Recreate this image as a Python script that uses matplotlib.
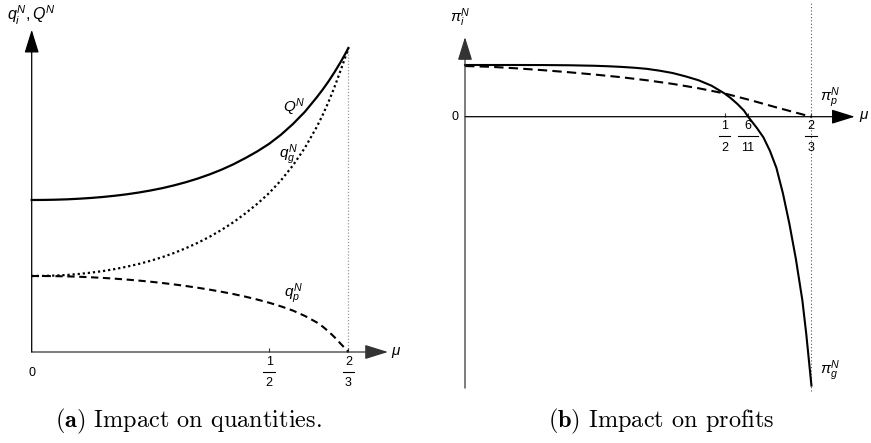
import matplotlib
matplotlib.use("Agg")
import matplotlib.pyplot as plt

plt.rcParams['font.family'] = ['Liberation Sans', 'DejaVu Sans']
plt.rcParams['mathtext.fontset'] = 'custom'
plt.rcParams['mathtext.rm'] = 'Liberation Sans'
plt.rcParams['mathtext.it'] = 'Liberation Sans:italic'
plt.rcParams['mathtext.bf'] = 'Liberation Sans:bold'

# ---------------- data: panel (a) quantities ----------------
mu_q = [0.0, 0.025, 0.05, 0.075, 0.1, 0.125, 0.15, 0.175, 0.2, 0.225, 0.25,
        0.275, 0.3, 0.325, 0.35, 0.375, 0.4, 0.425, 0.45, 0.475, 0.5, 0.525,
        0.55, 0.575, 0.6, 0.6125, 0.625, 0.6375, 0.65, 0.6583, 0.6667]
Q_N = [2.000, 2.001, 2.004, 2.009, 2.017, 2.027, 2.040, 2.056, 2.075, 2.098,
       2.125, 2.156, 2.193, 2.235, 2.283, 2.338, 2.400, 2.471, 2.552, 2.640,
       2.740, 2.860, 3.000, 3.160, 3.350, 3.452, 3.562, 3.682, 3.811, 3.902,
       4.000]
qg_N = [1.000, 1.001, 1.006, 1.014, 1.027, 1.044, 1.065, 1.091, 1.122, 1.158,
        1.200, 1.248, 1.304, 1.367, 1.438, 1.518, 1.608, 1.709, 1.824, 1.950,
        2.092, 2.260, 2.455, 2.685, 2.960, 3.117, 3.292, 3.487, 3.699, 3.845,
        4.000]
qp_N = [1.000, 1.000, 0.998, 0.995, 0.990, 0.983, 0.975, 0.965, 0.953, 0.940,
        0.925, 0.908, 0.889, 0.868, 0.845, 0.820, 0.792, 0.762, 0.728, 0.690,
        0.648, 0.600, 0.545, 0.475, 0.390, 0.335, 0.270, 0.195, 0.112, 0.057,
        0.000]
ticks_a = [0.5, 2/3]
ticknum_a = ['1', '2']
tickden_a = ['2', '3']

# ---------------- data: panel (b) profits ----------------
mu_pg = [0.0, 0.05, 0.1, 0.15, 0.2, 0.25, 0.275, 0.3, 0.325, 0.35, 0.375,
         0.4, 0.425, 0.45, 0.475, 0.5, 0.5125, 0.525, 0.5375, 6/11, 0.5625,
         0.575, 0.5875, 0.6, 0.6125, 0.625, 0.6375, 0.65, 0.6575, 0.6625,
         0.6675]
pi_g = [1.000, 1.000, 1.000, 0.999, 0.995, 0.985, 0.976, 0.964, 0.948, 0.926,
        0.890, 0.845, 0.780, 0.705, 0.600, 0.450, 0.355, 0.245, 0.118, 0.000,
        -0.220, -0.400, -0.660, -0.990, -1.480, -2.070, -2.750, -3.550,
        -4.200, -4.700, -5.200]
mu_pp = [0.0, 0.05, 0.1, 0.15, 0.2, 0.25, 0.3, 0.35, 0.4, 0.45, 0.5, 0.55,
         0.6, 2/3]
pi_p = [0.980, 0.965, 0.935, 0.900, 0.860, 0.815, 0.765, 0.705, 0.635, 0.550,
        0.450, 0.320, 0.180, 0.000]
ticks_b = [0.5, 6/11, 2/3]
ticknum_b = ['1', '6', '2']
tickden_b = ['2', '11', '3']

W, H = 871, 443
fig = plt.figure(figsize=(W/100, H/100), dpi=100)


def make_axes(px0, px1, py0, py1, ox, oy, sx, sy):
    """axes covering a pixel box; origin at pixel (ox, oy), scales sx, sy px/unit"""
    ax = fig.add_axes([px0/W, 1-py1/H, (px1-px0)/W, (py1-py0)/H])
    ax.set_xlim((px0-ox)/sx, (px1-ox)/sx)
    ax.set_ylim((oy-py1)/sy, (oy-py0)/sy)
    ax.axis('off')
    return ax


def arrow(ax, start, tip, color='k', lw=0.9):
    ax.annotate('', xy=tip, xytext=start,
                arrowprops=dict(arrowstyle='-|>,head_length=0.9,head_width=0.28',
                                color=color, lw=lw, shrinkA=0, shrinkB=0,
                                mutation_scale=16))


def frac_labels(ax, ticks, nums, dens, y_bar, dy_num, dy_den, sx):
    for t, n, d in zip(ticks, nums, dens):
        ax.text(t, y_bar + dy_num, n, ha='center', va='center', fontsize=9)
        ax.text(t, y_bar - dy_den, d, ha='center', va='center', fontsize=9)
        hw = (2.0 + 3.8 * max(len(n), len(d))) / sx
        ax.plot([t - hw, t + hw], [y_bar, y_bar], color='k', lw=0.8)


# ---------------- panel (a) ----------------
sxa, sya = 475, 76
axa = make_axes(0, 430, 0, 400, 31.7, 352, sxa, sya)
axc = '#333333'
arrow(axa, (0, 0), (0.75, 0), color=axc)
arrow(axa, (0, 0), (0, 4.24), color='k')
axa.vlines([2/3], 0, 4.0, colors='#999999', linestyles=(0, (1, 1.5)), lw=0.9)
axa.vlines(ticks_a, 0, 0.05, colors=axc, lw=0.8)
axa.plot(mu_q, Q_N, color='k', lw=1.6)
axa.plot(mu_q, qg_N, color='k', lw=1.6, linestyle=(0, (1.0, 1.3)))
axa.plot(mu_q, qp_N, color='k', lw=1.5, linestyle=(0, (3.5, 2.2)))
frac_labels(axa, ticks_a, ticknum_a, tickden_a, -20/sya, 10/sya, 11/sya, sxa)
axa.text(0, -0.28, '0', ha='center', va='center', fontsize=9)
axa.text(0.757, 0, r'$\mu$', ha='left', va='center', fontsize=11)
axa.text(0, 4.43, r'$q_i^N, Q^N$', ha='center', va='center', fontsize=11.5)
axa.text(0.552, 3.22, r'$Q^N$', ha='center', va='center', fontsize=11)
axa.text(0.540, 2.60, r'$q_g^N$', ha='center', va='center', fontsize=11)
axa.text(0.550, 0.76, r'$q_p^N$', ha='center', va='center', fontsize=11)

# ---------------- panel (b) ----------------
sxb, syb = 519, 51.7
axb = make_axes(430, 871, 0, 400, 465, 116.7, sxb, syb)
arrow(axb, (0, 0), (0.751, 0), color='k')
arrow(axb, (0, -5.25), (0, 1.54), color='#333333')
axb.vlines([2/3], -5.3, 2.2, colors='#555555', linestyles=(0, (1, 2)), lw=0.8)
axb.vlines(ticks_b, 0, 0.07, colors='#333333', lw=0.8)
axb.plot(mu_pg, pi_g, color='k', lw=1.5)
axb.plot(mu_pp, pi_p, color='k', lw=1.5, linestyle=(0, (4.5, 2.5)))
frac_labels(axb, ticks_b, ticknum_b, tickden_b, -19.5/syb, 10/syb, 12/syb, sxb)
axb.text(-0.012, 0, '0', ha='right', va='center', fontsize=9)
axb.text(0.760, 0, r'$\mu$', ha='left', va='center', fontsize=11)
axb.text(-0.01, 1.91, r'$\pi_i^N$', ha='center', va='center', fontsize=11)
axb.text(0.703, 0.36, r'$\pi_p^N$', ha='center', va='center', fontsize=11)
axb.text(0.703, -4.92, r'$\pi_g^N$', ha='center', va='center', fontsize=11)

# ---------------- captions ----------------
fig.text(188/W, 1-421/H, r'$\mathbf{(a)}$ Impact on quantities.', ha='center',
         va='center', fontsize=17.5, family='cmr10', math_fontfamily='cm')
fig.text(661/W, 1-421/H, r'$\mathbf{(b)}$ Impact on profits', ha='center',
         va='center', fontsize=17.5, family='cmr10', math_fontfamily='cm')

fig.savefig('out.png', dpi=100)
